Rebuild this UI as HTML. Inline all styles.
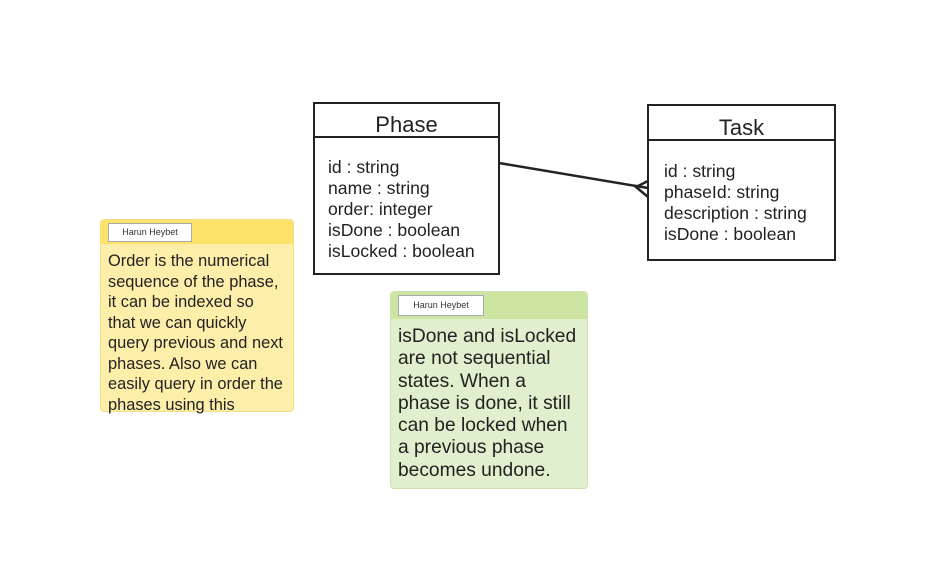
<!DOCTYPE html>
<html><head><style>
body{margin:0;width:943px;height:588px;background:#fff;position:relative;overflow:hidden;font-family:"Liberation Sans",Arial,sans-serif;color:#222}
.box{position:absolute;border:2px solid #222;background:#fff;box-sizing:border-box}
.box .t{position:absolute;left:0;right:0;text-align:center;font-size:22px}
.box .hr{position:absolute;left:0;right:0;height:2px;background:#222}
.box .a{position:absolute;left:13px;font-size:17.6px;line-height:21px;white-space:nowrap}
.note{position:absolute;border-radius:4px;box-sizing:border-box}
.tag{position:absolute;background:#fff;border:1px solid #aaa;font-size:9px;text-align:center;color:#333}
.nt{position:absolute;left:7px;white-space:nowrap}
</style></head><body>
<div class="box" style="left:313px;top:102px;width:187px;height:173px">
 <div class="t" style="top:8px">Phase</div>
 <div class="hr" style="top:32px"></div>
 <div class="a" style="top:53px">id : string<br>name : string<br>order: integer<br>isDone : boolean<br>isLocked : boolean</div>
</div>
<div class="box" style="left:647px;top:104px;width:189px;height:157px">
 <div class="t" style="top:9px">Task</div>
 <div class="hr" style="top:33px"></div>
 <div class="a" style="top:55px;left:15px">id : string<br>phaseId: string<br>description : string<br>isDone : boolean</div>
</div>
<svg style="position:absolute;left:0;top:0" width="943" height="588">
<line x1="499" y1="163" x2="648" y2="188" stroke="#222" stroke-width="2.5"/>
<polyline points="648,181 636,187 648,197" fill="none" stroke="#222" stroke-width="2.5"/>
</svg>
<div class="note" style="left:100px;top:219px;width:194px;height:193px;background:#fdeeaa;border:1px solid #f3de8a">
 <div style="position:absolute;left:0;right:0;top:0;height:24px;background:#fde26a;border-radius:4px 4px 0 0"></div>
 <div class="tag" style="left:7px;top:3px;width:82px;height:17px;line-height:17px">Harun Heybet</div>
 <div class="nt" style="top:31px;font-size:16.4px;line-height:20.5px">Order is the numerical<br>sequence of the phase,<br>it can be indexed so<br>that we can quickly<br>query previous and next<br>phases. Also we can<br>easily query in order the<br>phases using this</div>
</div>
<div class="note" style="left:390px;top:291px;width:198px;height:198px;background:#e0efcd;border:1px solid #cfe0b5">
 <div style="position:absolute;left:0;right:0;top:0;height:27px;background:#cde5a0;border-radius:4px 4px 0 0"></div>
 <div class="tag" style="left:7px;top:3px;width:84px;height:19px;line-height:19px">Harun Heybet</div>
 <div class="nt" style="top:34px;font-size:19.2px;line-height:22.3px">isDone and isLocked<br>are not sequential<br>states. When a<br>phase is done, it still<br>can be locked when<br>a previous phase<br>becomes undone.</div>
</div>
</body></html>
